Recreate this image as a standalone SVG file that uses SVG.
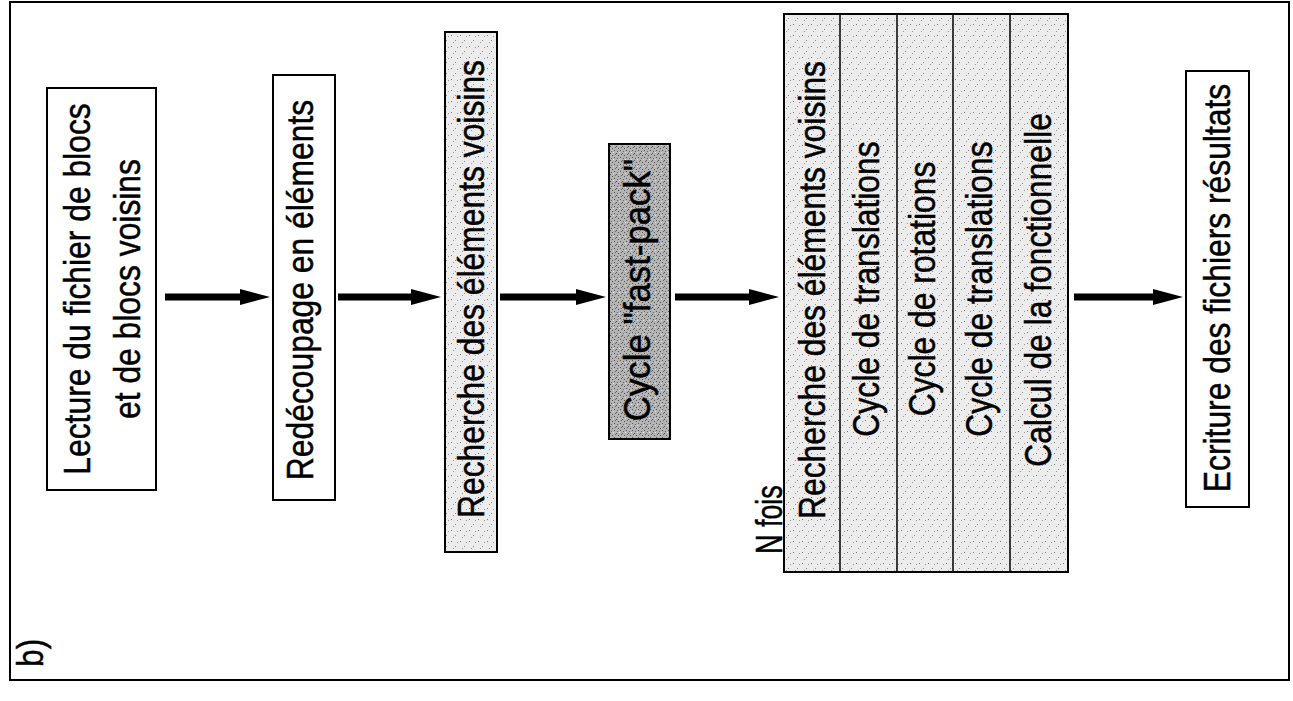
<svg xmlns="http://www.w3.org/2000/svg" width="1293" height="701" viewBox="0 0 1293 701">
<style>
.box{stroke:#000;stroke-width:2;fill:#fff}
.light{fill:url(#speckLight)}
.dark{fill:url(#speckDark)}
.div{stroke:#000;stroke-width:1.5}
.t{font-family:"Liberation Sans",Arial,Helvetica,sans-serif;font-size:37px;fill:#000;stroke:#000;stroke-width:0.5}
.shaft{stroke:#000;stroke-width:7;fill:none}
</style>
<defs>
<pattern id="speckLight" patternUnits="userSpaceOnUse" width="9" height="11">
<rect width="9" height="11" fill="#ececec"/>
<rect x="1" y="2" width="1" height="1" fill="#777"/>
<rect x="5" y="7" width="1" height="1" fill="#888"/>
<rect x="7" y="3" width="1" height="1" fill="#999"/>
<rect x="3" y="9" width="1" height="1" fill="#999"/>
</pattern>
<pattern id="speckDark" patternUnits="userSpaceOnUse" width="6" height="7">
<rect width="6" height="7" fill="#b4b4b4"/>
<rect x="0" y="1" width="1" height="1" fill="#555"/>
<rect x="3" y="0" width="1" height="1" fill="#666"/>
<rect x="2" y="3" width="1" height="1" fill="#555"/>
<rect x="5" y="4" width="1" height="1" fill="#666"/>
<rect x="1" y="5" width="1" height="1" fill="#e0e0e0"/>
<rect x="4" y="6" width="1" height="1" fill="#555"/>
</pattern>
<marker id="ah" markerUnits="userSpaceOnUse" markerWidth="32" markerHeight="20" viewBox="0 -10 32 20" refX="0" refY="0" orient="auto">
<path d="M0,-8 L30,0 L0,8 Z" fill="#000"/>
</marker>
</defs>
<rect x="0" y="0" width="1293" height="701" fill="#fff"/>
<rect id="frame" x="10" y="2" width="1279" height="678" fill="none" stroke="#000" stroke-width="2"/>
<text class="t" transform="translate(43,667) rotate(-90) scale(0.86,1)">b)</text>

<g id="n1">
<rect class="box" x="47" y="88" width="109" height="402"/>
<text class="t" text-anchor="middle" transform="translate(90,289) rotate(-90) scale(0.86,1)">Lecture du fichier de blocs</text>
<text class="t" text-anchor="middle" transform="translate(140,289) rotate(-90) scale(0.86,1)">et de blocs voisins</text>
</g>
<g id="n2">
<rect class="box" x="273" y="75" width="62" height="425"/>
<text class="t" text-anchor="middle" transform="translate(313,290) rotate(-90) scale(0.86,1)">Redécoupage en éléments</text>
</g>
<g id="n3">
<rect class="box light" x="445" y="32" width="52" height="520"/>
<text class="t" text-anchor="middle" transform="translate(484,289) rotate(-90) scale(0.86,1)">Recherche des éléments voisins</text>
</g>
<g id="n4">
<rect class="box dark" x="609" y="144" width="61" height="295"/>
<text class="t" text-anchor="middle" textLength="305" lengthAdjust="spacingAndGlyphs" transform="translate(650,290) rotate(-90) scale(0.86,1)">Cycle "fast-pack"</text>
</g>
<g id="n5">
<rect class="box light" x="784" y="14" width="284" height="558"/>
<line class="div" x1="840" y1="14" x2="840" y2="572"/>
<line class="div" x1="897" y1="14" x2="897" y2="572"/>
<line class="div" x1="953" y1="14" x2="953" y2="572"/>
<line class="div" x1="1010" y1="14" x2="1010" y2="572"/>
<text class="t" text-anchor="middle" transform="translate(825,290) rotate(-90) scale(0.86,1)">Recherche des éléments voisins</text>
<text class="t" text-anchor="middle" transform="translate(879,289) rotate(-90) scale(0.86,1)">Cycle de translations</text>
<text class="t" text-anchor="middle" transform="translate(935,289) rotate(-90) scale(0.86,1)">Cycle de rotations</text>
<text class="t" text-anchor="middle" transform="translate(992,289) rotate(-90) scale(0.86,1)">Cycle de translations</text>
<text class="t" text-anchor="middle" transform="translate(1051,290) rotate(-90) scale(0.86,1)">Calcul de la fonctionnelle</text>
</g>
<text id="nfois" class="t" textLength="80" lengthAdjust="spacingAndGlyphs" transform="translate(782,554) rotate(-90) scale(0.86,1)">N fois</text>
<g id="n6">
<rect class="box" x="1186" y="71" width="63" height="436"/>
<text class="t" text-anchor="middle" transform="translate(1230,288) rotate(-90) scale(0.86,1)">Ecriture des fichiers résultats</text>
</g>

<g id="connectors">
<line class="shaft" x1="165" y1="297" x2="240" y2="297" marker-end="url(#ah)"/>
<line class="shaft" x1="338" y1="297" x2="411" y2="297" marker-end="url(#ah)"/>
<line class="shaft" x1="500" y1="297" x2="576" y2="297" marker-end="url(#ah)"/>
<line class="shaft" x1="675" y1="297" x2="749" y2="297" marker-end="url(#ah)"/>
<line class="shaft" x1="1074" y1="297" x2="1153" y2="297" marker-end="url(#ah)"/>
</g>
</svg>
